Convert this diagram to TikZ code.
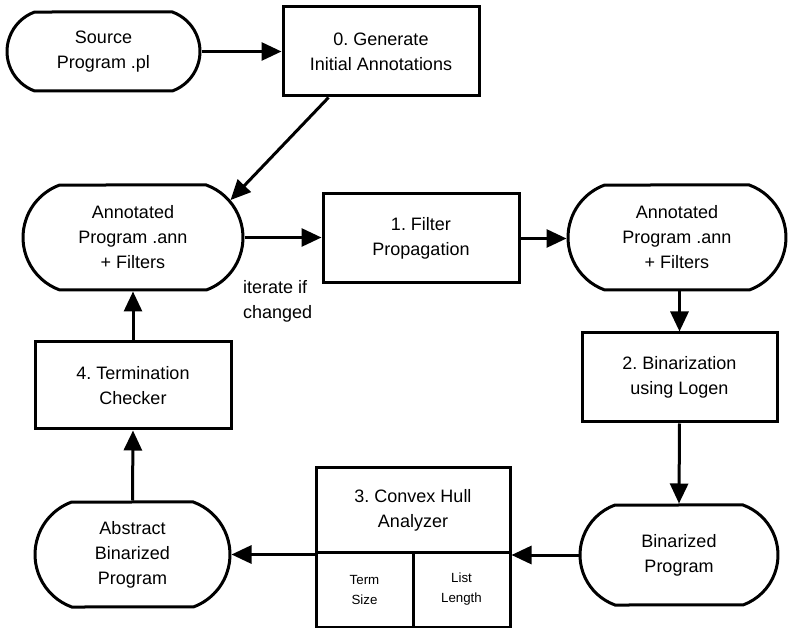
\documentclass[tikz,border=0pt]{standalone}
\usepackage{fontspec}
\setmainfont{Liberation Sans}
\usetikzlibrary{arrows.meta,shapes.misc}
\frenchspacing
\begin{document}
\begin{tikzpicture}[x=1pt,y=-1pt,
  box/.style={draw, line width=3pt, rectangle, inner sep=0pt, align=center, font=\fontsize{18}{25}\selectfont},
  stad/.style={draw, line width=3pt, rounded rectangle, rounded rectangle arc length=140, inner sep=0pt, align=center, font=\fontsize{18}{25}\selectfont},
  smallbox/.style={draw, line width=3pt, rectangle, inner sep=0pt, align=center, font=\fontsize{13.3}{20}\selectfont},
  arr/.style={line width=3pt, -{Triangle[length=20pt,width=18pt]}}]
\useasboundingbox (0,0) rectangle (788,628);
\node[stad, minimum width=193pt, minimum height=79pt] (src) at (103.5,51.5) {Source\\Program .pl};
\node[box, minimum width=196pt, minimum height=89pt] (gen) at (381,51.5) {0. Generate\\Initial Annotations};
\node[stad, minimum width=220pt, minimum height=105pt] (ann1) at (133,237.5) {Annotated\\Program .ann\\+ Filters};
\node[box, minimum width=196pt, minimum height=89pt] (filt) at (421,238.5) {1. Filter\\Propagation};
\node[stad, minimum width=218pt, minimum height=105pt] (ann2) at (677,237.5) {Annotated\\Program .ann\\+ Filters};
\node[box, minimum width=195pt, minimum height=89pt] (bin) at (679.5,377.5) {2. Binarization\\using Logen};
\node[stad, minimum width=198pt, minimum height=100pt] (binp) at (679,555) {Binarized\\Program};
\node[box, minimum width=194pt, minimum height=84pt] (hull) at (413,510) {3. Convex Hull\\Analyzer};
\node[smallbox, minimum width=97pt, minimum height=75pt] (ts) at (364.5,589.5) {Term\\Size};
\node[smallbox, minimum width=97pt, minimum height=75pt] (ll) at (461.5,589.5) {List\\Length};
\node[stad, minimum width=195pt, minimum height=105pt] (abs) at (132.5,554.5) {Abstract\\Binarized\\Program};
\node[box, minimum width=196pt, minimum height=87pt] (term) at (133,385.5) {4. Termination\\Checker};
\node[anchor=north west, inner sep=0pt, align=left, font=\fontsize{18}{25}\selectfont] (iter) at (243,280) {iterate if\\changed};
\draw[arr] (src.east) -- (gen.west);
\draw[arr] ([xshift=47pt]gen.south west) -- (ann1.21);
\draw[arr] (ann1.east) -- (filt.west |- ann1.east);
\draw[arr] (filt.east) -- (ann2.west |- filt.east);
\draw[arr] (ann2.south -| bin.north) -- (bin.north);
\draw[arr] (bin.south) -- (binp.north);
\draw[arr] (binp.west) -- (binp.west -| hull.east);
\draw[arr] (hull.west |- abs.east) -- (abs.east);
\draw[arr] (abs.north) -- (term.south);
\draw[arr] (term.north) -- (ann1.south);
\end{tikzpicture}
\end{document}
